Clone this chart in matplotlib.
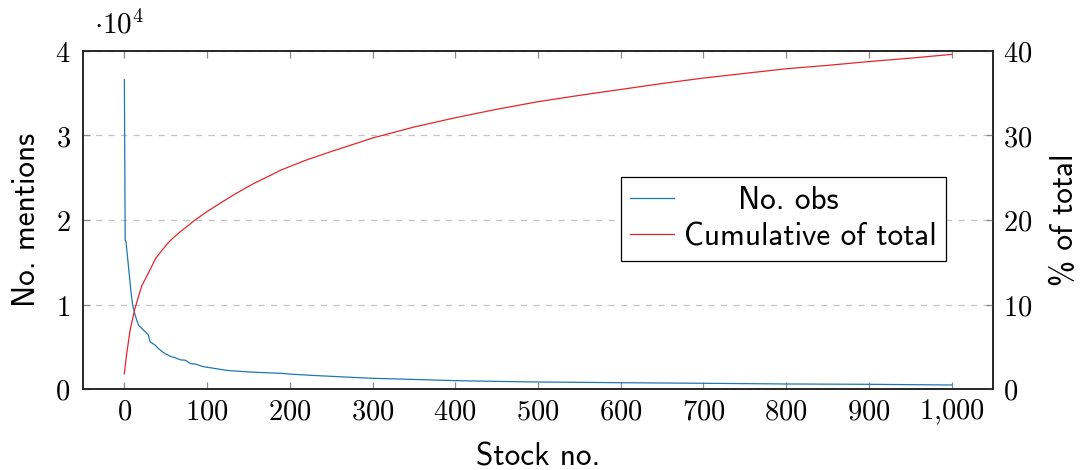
import matplotlib
matplotlib.use("Agg")
import matplotlib.pyplot as plt
from matplotlib.ticker import FuncFormatter, MultipleLocator

plt.rcParams['mathtext.fontset'] = 'cm'

# mentions per stock, ranked
stock_no = [0, 1, 2, 4, 6, 8, 10, 13, 17, 25, 29, 31, 37, 41, 46, 50, 56, 60,
            68, 74, 80, 86, 95, 108, 124, 150, 170, 189, 201, 225, 250, 275,
            299, 350, 400, 450, 500, 600, 700, 800, 900, 1000]
mentions = [36600, 17600, 17400, 15450, 13500, 11500, 9950, 8750, 7550, 6800,
            6400, 5600, 5200, 4800, 4400, 4150, 3850, 3750, 3450, 3400, 3000,
            2950, 2650, 2450, 2200, 2020, 1930, 1860, 1760, 1620, 1500, 1380,
            1270, 1130, 990, 900, 830, 745, 675, 595, 555, 475]

# cumulative share of all mentions (%)
cum_x = [0, 1, 3, 7, 13, 21, 31, 38, 52, 58, 68, 78, 84, 100, 116, 136, 156,
         177, 189, 220, 250, 275, 300, 350, 400, 450, 500, 550, 600, 650, 700,
         750, 800, 850, 900, 950, 1000]
cum_pct = [1.8, 2.7, 4.3, 7.0, 9.6, 12.2, 14.1, 15.5, 17.2, 17.8, 18.65, 19.4,
           19.9, 21.0, 22.0, 23.2, 24.3, 25.3, 25.9, 27.1, 28.1, 28.9, 29.7,
           31.0, 32.1, 33.1, 34.0, 34.75, 35.45, 36.15, 36.8, 37.35, 37.9,
           38.3, 38.75, 39.15, 39.6]

blue = '#1f77b4'
red = '#e3262c'
tick_gray = '#888888'
fs_tick = 20.5
fs = 22.5
sans = 'cmss10'

fig = plt.figure(figsize=(10.82, 4.70), dpi=100)
ax = fig.add_axes([83 / 1082, 81 / 470, 910 / 1082, 338 / 470])
ax2 = ax.twinx()

l1, = ax.plot(stock_no, mentions, color=blue, lw=0.9)
l2, = ax2.plot(cum_x, cum_pct, color=red, lw=0.9)

ax.set_xlim(-50, 1050)
ax.set_ylim(0, 40000)
ax2.set_ylim(0, 40)

ax.xaxis.set_major_locator(MultipleLocator(100))
ax.yaxis.set_major_locator(MultipleLocator(10000))
ax2.yaxis.set_major_locator(MultipleLocator(10))

def xfmt(v, pos):
    v = int(round(v))
    if v >= 1000:
        return r'$%d{,}%03d$' % (v // 1000, v % 1000)
    return r'$%d$' % v

ax.xaxis.set_major_formatter(FuncFormatter(xfmt))
ax.yaxis.set_major_formatter(FuncFormatter(lambda v, p: r'$%d$' % round(v / 10000)))
ax2.yaxis.set_major_formatter(FuncFormatter(lambda v, p: r'$%d$' % round(v)))

ax.grid(axis='y', color='#c4c4c4', ls=(0, (5, 5)), lw=0.9)
ax.tick_params(axis='x', direction='in', top=True, length=5, width=0.9,
               color=tick_gray, labelsize=fs_tick, pad=6)
ax.tick_params(axis='y', direction='in', length=5, width=0.9,
               color=tick_gray, labelsize=fs_tick, pad=9)
ax2.tick_params(axis='y', direction='in', length=5, width=0.9,
                color=tick_gray, labelsize=fs_tick, pad=7)

for a in (ax, ax2):
    for s in a.spines.values():
        s.set_linewidth(1.1)
        s.set_color('#222222')

ax.set_xlabel('Stock no.', family=sans, fontsize=fs, labelpad=11)
ax.set_ylabel('No. mentions', family=sans, fontsize=fs, labelpad=10)
ax2.set_ylabel('% of total', family=sans, fontsize=fs, labelpad=13)

ax.text(0.012, 1.035, r'$\cdot 10^4$', transform=ax.transAxes,
        fontsize=21, ha='left', va='bottom')

leg = ax2.legend([l1, l2], ['No. obs', 'Cumulative of total'],
                 loc='upper left', bbox_to_anchor=(621 / 1082, 1 - 177 / 470),
                 bbox_transform=fig.transFigure, borderaxespad=0,
                 prop={'family': sans, 'size': fs}, fancybox=False,
                 edgecolor='black', framealpha=1, handlelength=1.4,
                 handletextpad=0.3, borderpad=0.3, labelspacing=0.22)
leg.get_frame().set_linewidth(0.9)

# centre the legend entries like the pgfplots default
renderer = fig.canvas.get_renderer()
widths = [t.get_window_extent(renderer).width for t in leg.get_texts()]
wmax = max(widths)
for t, w in zip(leg.get_texts(), widths):
    t.set_position(((wmax - w) / 2 * 72 / fig.dpi, 0))

fig.savefig('out.png', dpi=100)
